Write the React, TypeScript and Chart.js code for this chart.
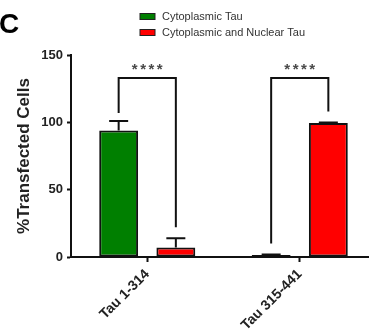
import React, { useEffect, useRef } from 'react';
import { Chart, registerables } from 'chart.js';
Chart.register(...registerables);

const categories = ['Tau 1-314', 'Tau 315-441'];
const seriesNames = ['Cytoplasmic Tau', 'Cytoplasmic and Nuclear Tau'];
const cytoplasmic = [94, 1.5];
const cytoplasmicErr = [7, 0.4];
const cytoNuclear = [7, 99.5];
const cytoNuclearErr = [7, 0.4];
const yTicks = [0, 50, 100, 150];
const sigLabels = ['****', '****'];
const bracketTop = [133, 133];
const bracketLeftEnd = [107, 10];
const bracketRightEnd = [22, 108];
const panelLetter = 'C';
const yTitle = '%Transfected Cells';

const FONT = '"Liberation Sans", Arial, sans-serif';
const seriesColors = ['#007f00', '#ff0000'];

const overlayPlugin = {
  id: 'overlay',
  afterDraw(chart: any) {
    const ctx = chart.ctx as CanvasRenderingContext2D;
    const yScale = chart.scales.y;
    const errs = [cytoplasmicErr, cytoNuclearErr];
    const vals = [cytoplasmic, cytoNuclear];
    ctx.save();
    // error bars
    ctx.strokeStyle = '#111';
    ctx.lineWidth = 2;
    for (let d = 0; d < 2; d++) {
      const meta = chart.getDatasetMeta(d);
      meta.data.forEach((el: any, i: number) => {
        const yTop = el.y;
        const yE = yScale.getPixelForValue(vals[d][i] + errs[d][i]);
        ctx.beginPath();
        ctx.moveTo(el.x, yTop);
        ctx.lineTo(el.x, yE);
        ctx.moveTo(el.x - 9.5, yE);
        ctx.lineTo(el.x + 9.5, yE);
        ctx.stroke();
      });
    }
    // brackets
    const m0 = chart.getDatasetMeta(0);
    const m1 = chart.getDatasetMeta(1);
    for (let k = 0; k < categories.length; k++) {
      const x0 = m0.data[k].x;
      const x1 = m1.data[k].x;
      const yT = yScale.getPixelForValue(bracketTop[k]);
      const yL = yScale.getPixelForValue(bracketLeftEnd[k]);
      const yR = yScale.getPixelForValue(bracketRightEnd[k]);
      ctx.strokeStyle = '#111';
      ctx.lineWidth = 2;
      ctx.beginPath();
      ctx.moveTo(x0, yL);
      ctx.lineTo(x0, yT);
      ctx.lineTo(x1, yT);
      ctx.lineTo(x1, yR);
      ctx.stroke();
      ctx.fillStyle = '#4a4a4a';
      ctx.font = `bold 15px ${FONT}`;
      (ctx as any).letterSpacing = '2.5px';
      ctx.textAlign = 'center';
      ctx.textBaseline = 'alphabetic';
      ctx.fillText(sigLabels[k], (x0 + x1) / 2 + 1.25, yT - 4);
      (ctx as any).letterSpacing = '0px';
    }
    // legend
    ctx.font = `11px ${FONT}`;
    ctx.textAlign = 'left';
    ctx.textBaseline = 'middle';
    seriesNames.forEach((name, i) => {
      const y = 16.5 + i * 16;
      ctx.fillStyle = seriesColors[i];
      ctx.fillRect(140, y - 3, 15, 6);
      ctx.strokeStyle = '#222';
      ctx.lineWidth = 1;
      ctx.strokeRect(140, y - 3, 15, 6);
      ctx.fillStyle = '#333';
      ctx.fillText(name, 162, y);
    });
    // panel letter
    ctx.fillStyle = '#000';
    ctx.font = `bold 28px ${FONT}`;
    ctx.textAlign = 'left';
    ctx.textBaseline = 'alphabetic';
    ctx.fillText(panelLetter, -1, 33);
    ctx.restore();
  },
};

export default function App() {
  const ref = useRef<HTMLCanvasElement>(null);
  useEffect(() => {
    const chart = new Chart(ref.current!, {
      type: 'bar',
      data: {
        labels: categories,
        datasets: [
          {
            label: seriesNames[0],
            data: cytoplasmic,
            backgroundColor: seriesColors[0],
            borderColor: '#111',
            borderWidth: 2,
            borderSkipped: false,
          },
          {
            label: seriesNames[1],
            data: cytoNuclear,
            backgroundColor: seriesColors[1],
            borderColor: '#111',
            borderWidth: 2,
            borderSkipped: false,
          },
        ],
      },
      options: {
        responsive: false,
        animation: false,
        devicePixelRatio: 1,
        layout: { padding: { left: 0, top: 55, right: 0, bottom: 0 } },
        datasets: { bar: { categoryPercentage: 0.75, barPercentage: 0.68 } },
        plugins: {
          legend: { display: false },
          tooltip: { enabled: false },
        },
        scales: {
          x: {
            afterFit: (s: any) => { s.height = 76; },
            grid: {
              display: true,
              drawOnChartArea: false,
              drawTicks: true,
              tickLength: 5,
              tickColor: '#111',
              tickWidth: 2,
              offset: false,
            },
            border: { display: true, color: '#111', width: 2 },
            ticks: {
              minRotation: 45,
              maxRotation: 45,
              padding: 4,
              color: '#222',
              font: { family: FONT, size: 14, weight: 'bold' },
            },
          },
          y: {
            min: 0,
            max: 150,
            afterFit: (s: any) => { s.width = 71; },
            afterBuildTicks: (s: any) => { s.ticks = yTicks.map((v) => ({ value: v })); },
            grid: {
              display: true,
              drawOnChartArea: false,
              drawTicks: true,
              tickLength: 4,
              tickColor: '#111',
              tickWidth: 2,
            },
            border: { display: true, color: '#111', width: 2 },
            ticks: {
              padding: 4,
              color: '#222',
              font: { family: FONT, size: 13, weight: 'bold' },
            },
            title: {
              display: true,
              text: yTitle,
              color: '#222',
              padding: { top: 14, bottom: 0 },
              font: { family: FONT, size: 17, weight: 'bold' },
            },
          },
        },
      },
      plugins: [overlayPlugin],
    } as any);
    return () => chart.destroy();
  }, []);
  return (
    <div style={{ position: 'absolute', left: 0, top: 0, width: 369, height: 333, background: '#fff', overflow: 'hidden' }}>
      <canvas ref={ref} width={376} height={333} style={{ display: 'block' }} />
    </div>
  );
}
